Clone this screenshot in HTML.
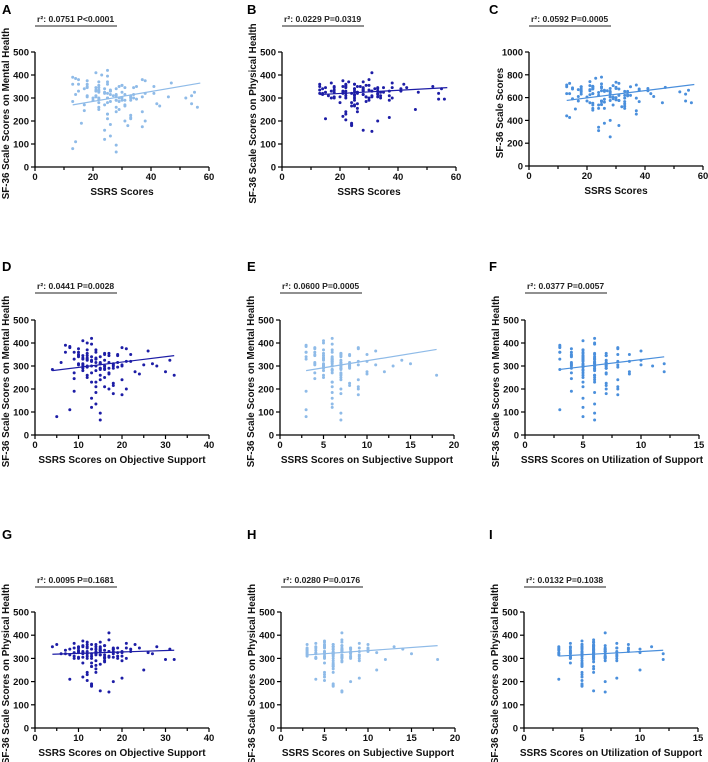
<!DOCTYPE html>
<html><head><meta charset="utf-8"><style>
body{margin:0;background:#fff}
svg{display:block;font-family:"Liberation Sans",Arial,sans-serif}
</style></head><body>
<svg id="chart" width="708" height="762" viewBox="0 0 708 762"></svg>
<script>
// Shared subject data
const objective = [10,12,15,8,18,20,14,11,16,9,13,22,17,12,6,25,14,19,11,15,7,13,16,21,10,18,12,14,28,9,17,15,11,20,13,5,16,12,24,14,18,10,15,13,19,8,12,30,16,11,14,21,17,13,9,15,12,18,26,10,14,16,20,11,13,7,15,19,12,17,4,14,22,16,10,13,18,11,15,27,12,9,16,14,20,13,17,11,15,32,12,18,14,10,16,23,13,15,8,19,12,14,17,11,21,15,13,18,10,16,14,12,20,9,15,31,13,17,11,14];
const subjective = [3,5,6,4,7,8,6,5,9,3,6,10,7,5,4,11,6,8,5,7,3,6,7,9,4,8,5,6,13,3,7,6,5,9,6,3,7,5,10,6,8,4,7,6,8,3,5,12,7,5,6,9,7,6,4,7,5,8,11,4,6,7,9,5,6,3,7,8,5,7,6,6,10,7,4,6,8,5,7,15,5,4,7,6,9,6,7,5,7,18,5,8,6,4,7,10,6,7,3,8,5,6,7,5,9,7,6,8,4,7,6,5,9,3,7,14,6,7,5,6];
const utilization = [4,5,6,3,7,6,5,4,8,3,5,9,7,6,4,10,5,7,6,6,3,5,7,8,4,7,5,6,11,4,6,5,5,8,6,5,7,5,9,6,7,4,6,5,8,3,5,12,6,5,6,8,7,6,4,6,5,7,10,4,5,7,8,5,6,3,6,7,5,7,3,5,9,6,4,6,7,5,6,12,5,4,7,5,8,6,7,5,6,6,5,7,6,4,6,9,5,6,3,8,5,6,7,5,8,6,5,7,4,6,5,5,8,3,6,10,5,7,4,6];
const mental = [340,250,310,380,180,300,360,290,210,330,120,350,270,400,315,305,230,345,280,95,360,325,290,200,375,310,260,335,300,190,355,285,410,240,320,80,300,370,265,330,215,345,310,160,295,385,325,275,350,305,135,320,290,395,245,340,300,225,365,310,280,355,175,330,300,390,260,315,345,200,285,370,320,250,305,420,290,335,65,310,355,270,325,300,380,230,315,345,290,260,330,305,185,360,300,275,340,315,110,350,295,330,265,310,375,240,320,300,350,285,210,335,305,360,290,325,270,345,300,315];
const physical = [330,300,350,210,340,325,360,280,315,345,190,330,305,370,320,250,340,310,355,160,335,320,290,365,300,345,230,325,350,310,380,275,330,215,340,360,300,320,345,255,330,305,370,180,325,340,310,295,355,320,240,345,330,300,365,315,205,340,325,350,290,335,310,375,265,320,345,300,330,155,350,315,340,285,325,360,305,220,335,320,345,300,355,270,330,310,410,325,340,295,350,200,320,335,305,360,280,330,315,345,240,325,310,350,300,335,185,320,345,305,330,360,290,325,315,340,265,330,305,350];
// Fit lines: [x0, y0, x1, y1]
const fitA=[13,270,57,365], fitB=[13,315,57,345], fitC=[13,575,57,715];
const fitD=[4,280,32,345], fitE=[3,280,18,372], fitF=[3,285,12,340];
const fitG=[4,318,32,335], fitH=[3,315,18,355], fitI=[3,310,12,335];
const stats=["r²: 0.0751 P<0.0001","r²: 0.0229 P=0.0319","r²: 0.0592 P=0.0005","r²: 0.0441 P=0.0028","r²: 0.0600 P=0.0005","r²: 0.0377 P=0.0057","r²: 0.0095 P=0.1681","r²: 0.0280 P=0.0176","r²: 0.0132 P=0.1038"];

const n=Math.min(objective.length,subjective.length,utilization.length,mental.length,physical.length);
const ssrs=[],total=[];
for(let i=0;i<n;i++){ssrs.push(objective[i]+subjective[i]+utilization[i]);total.push(mental[i]+physical[i]);}

const NS="http://www.w3.org/2000/svg";
const svg=document.getElementById('chart');
function el(tag,attrs,parent,text){const e=document.createElementNS(NS,tag);for(const k in attrs)e.setAttribute(k,attrs[k]);if(text!==undefined)e.textContent=text;(parent||svg).appendChild(e);return e;}

const C1="#8fbbe8",C2="#1d1da6",C3="#4a8fdc";
const panels=[
 {L:"A",x:ssrs,y:mental,xmax:60,xs:20,ymax:500,ys:100,ax:35,top:52,bot:167,xl:"SSRS Scores",yl:"SF-36 Scale Scores on Mental Health",c:C1,f:fitA,s:0},
 {L:"B",x:ssrs,y:physical,xmax:60,xs:20,ymax:500,ys:100,ax:282,top:52,bot:167,xl:"SSRS Scores",yl:"SF-36 Scale Scores on Physical Health",c:C2,f:fitB,s:1},
 {L:"C",x:ssrs,y:total,xmax:60,xs:20,ymax:1000,ys:200,ax:529,top:52,bot:166,xl:"SSRS Scores",yl:"SF-36 Scale Scores",c:C3,f:fitC,s:2},
 {L:"D",x:objective,y:mental,xmax:40,xs:10,ymax:500,ys:100,ax:35,top:320,bot:435,xl:"SSRS Scores on Objective Support",yl:"SF-36 Scale Scores on Mental Health",c:C2,f:fitD,s:3},
 {L:"E",x:subjective,y:mental,xmax:20,xs:5,ymax:500,ys:100,ax:280,top:320,bot:435,xl:"SSRS Scores on Subjective Support",yl:"SF-36 Scale Scores on Mental Health",c:C1,f:fitE,s:4},
 {L:"F",x:utilization,y:mental,xmax:15,xs:5,ymax:500,ys:100,ax:525,top:320,bot:435,xl:"SSRS Scores on Utilization of Support",yl:"SF-36 Scale Scores on Mental Health",c:C3,f:fitF,s:5},
 {L:"G",x:objective,y:physical,xmax:40,xs:10,ymax:500,ys:100,ax:35,top:612,bot:728,xl:"SSRS Scores on Objective Support",yl:"SF-36 Scale Scores on Physical Health",c:C2,f:fitG,s:6},
 {L:"H",x:subjective,y:physical,xmax:20,xs:5,ymax:500,ys:100,ax:281,top:612,bot:728,xl:"SSRS Scores on Subjective Support",yl:"SF-36 Scale Scores on Physical Health",c:C1,f:fitH,s:7},
 {L:"I",x:utilization,y:physical,xmax:15,xs:5,ymax:500,ys:100,ax:524,top:612,bot:728,xl:"SSRS Scores on Utilization of Support",yl:"SF-36 Scale Scores on Physical Health",c:C3,f:fitI,s:8}
];
const W=174;
const letterY=[14,271,539], statY=[22,289,583];
panels.forEach((p,pi)=>{
 const row=Math.floor(pi/3);
 const g=el('g',{});
 
 
 const sx=v=>p.ax+v/p.xmax*W, sy=v=>p.bot-v/p.ymax*(p.bot-p.top);
 const lt=el('text',{x:[2,247,489][pi%3],y:letterY[row],'font-size':13,'font-weight':'bold',fill:'#000'},g,p.L);
 
 const st=el('text',{x:p.ax+2,y:statY[row],'font-size':8.6,'font-weight':'bold',fill:'#222'},g,stats[p.s]);
 
 const ul=el('line',{x1:p.ax,x2:p.ax+82,y1:statY[row]+4,y2:statY[row]+4,stroke:'#222','stroke-width':1},g);
 
 const ya=el('line',{x1:p.ax,x2:p.ax,y1:p.top,y2:p.bot,stroke:'#000','stroke-width':1.3},g);
 
 const xa=el('line',{x1:p.ax,x2:p.ax+W,y1:p.bot,y2:p.bot,stroke:'#000','stroke-width':1.3},g);
 
 for(let v=0;v<=p.ymax+1e-9;v+=p.ys){
  el('line',{x1:p.ax-4,x2:p.ax,y1:sy(v),y2:sy(v),stroke:'#000','stroke-width':1.2},g);
  const t=el('text',{x:p.ax-6,y:sy(v)+3.5,'font-size':9.5,'font-weight':'bold','text-anchor':'end',fill:'#111'},g,String(v));
  
 }
 for(let v=0;v<=p.xmax+1e-9;v+=p.xs/2){
  const major=Math.abs(v/p.xs-Math.round(v/p.xs))<1e-9;
  el('line',{x1:sx(v),x2:sx(v),y1:p.bot,y2:p.bot+(major?4:3),stroke:'#000','stroke-width':1.2},g);
  if(major){const t=el('text',{x:sx(v),y:p.bot+13,'font-size':9.5,'font-weight':'bold','text-anchor':'middle',fill:'#111'},g,String(v));
  }
 }
 const xt=el('text',{x:p.ax+W/2,y:p.bot+28,'font-size':10,'font-weight':'bold','text-anchor':'middle',fill:'#111'},g,p.xl);
 
 const cy=(p.top+p.bot)/2+4, cx=p.ax-26;
 const yt=el('text',{x:cx,y:cy,'font-size':9.8,'font-weight':'bold','text-anchor':'middle',fill:'#111',transform:`rotate(-90 ${cx} ${cy})`},g,p.yl);
 
 for(let i=0;i<n;i++){
  const d=el('circle',{cx:sx(p.x[i]),cy:sy(p.y[i]),r:1.5,fill:p.c},g);
  
 }
 const fl=el('line',{x1:sx(p.f[0]),y1:sy(p.f[1]),x2:sx(p.f[2]),y2:sy(p.f[3]),stroke:p.c,'stroke-width':1.2},g);
 
});
</script>
</body></html>
